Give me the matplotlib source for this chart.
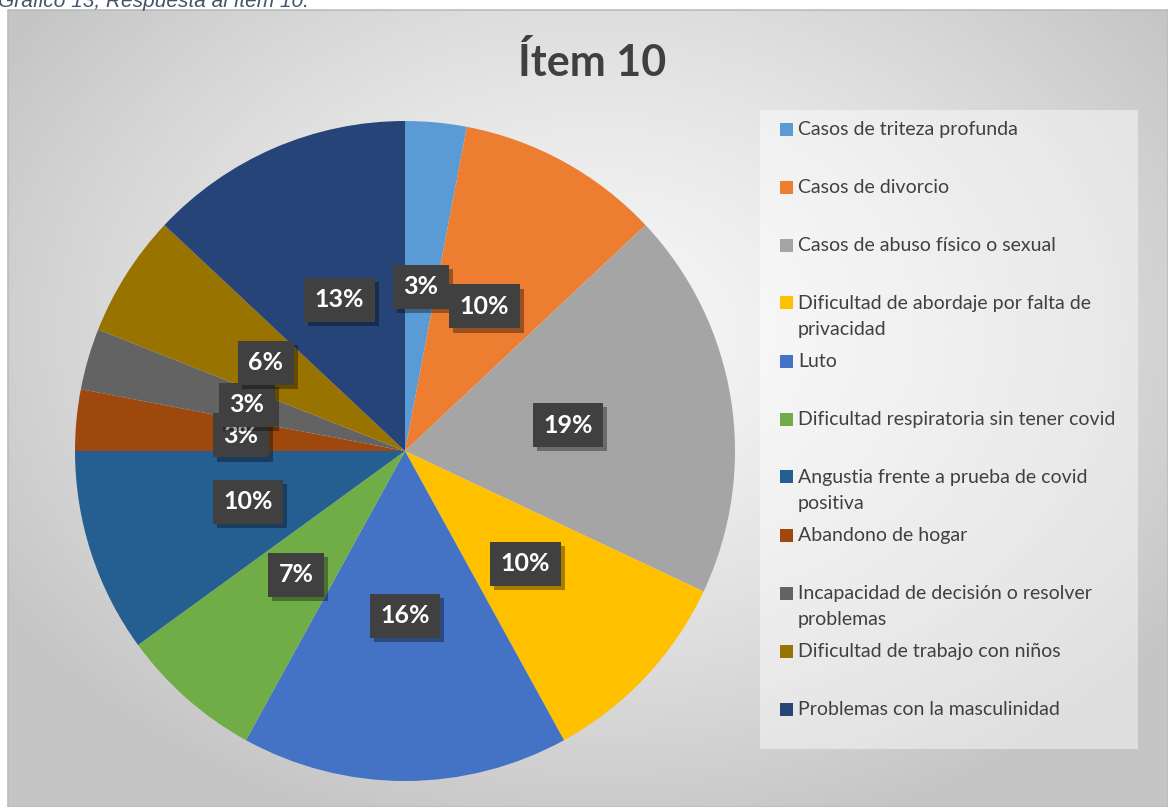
import numpy as np
import matplotlib
matplotlib.use("Agg")
import matplotlib.pyplot as plt
import matplotlib.patheffects as pe
from matplotlib.patches import Rectangle

# Respuestas al ítem 10 (porcentaje)
categories = ["Casos de triteza profunda",
              "Casos de divorcio",
              "Casos de abuso físico o sexual",
              "Dificultad de abordaje por falta de\nprivacidad",
              "Luto",
              "Dificultad respiratoria sin tener covid",
              "Angustia frente a prueba de covid\npositiva",
              "Abandono de hogar",
              "Incapacidad de decisión o resolver\nproblemas",
              "Dificultad de trabajo con niños",
              "Problemas con la masculinidad"]
values = [3, 10, 19, 10, 16, 7, 10, 3, 3, 6, 13]
colors = ["#5B9BD5", "#ED7D31", "#A5A5A5", "#FFC000", "#4472C4", "#70AD47",
          "#255E91", "#9E480E", "#636363", "#997300", "#264478"]

title = "Ítem 10"
caption = "Gráfico 13, Respuesta al ítem 10."

W, H = 1168, 807
FONT = "Lato"
TEXT_COLOR = "#404040"

def fx(x):
    return x / W

def fy(y):
    return 1 - y / H

fig = plt.figure(figsize=(W / 100, H / 100), dpi=100)
fig.patch.set_facecolor("white")

# --- chart area background (radial grey gradient) ---
bg = fig.add_axes([fx(8), 0, 1 - fx(8), fy(10)])
bg.set_axis_off()
gy, gx = np.mgrid[10:H, 8:W]
d = np.sqrt(((gx - 600) / 700.0) ** 2 + ((gy - 330) / 520.0) ** 2)
shade = 0.965 - 0.19 * np.clip(d, 0, 1) ** 1.4
bg.imshow(np.dstack([shade, shade, shade]), aspect="auto",
          extent=[0, 1, 0, 1], interpolation="bilinear")
bg.set_xlim(0, 1)
bg.set_ylim(0, 1)
fig.add_artist(Rectangle((fx(8), 0), 1 - fx(8), fy(10), transform=fig.transFigure,
                         fill=False, edgecolor="#bcbcbc", linewidth=1.2))

# caption above the chart, cut at the top edge as in the original document
fig.text(fx(-2), fy(7), caption, fontsize=15, style="italic",
         family="Liberation Sans", color="#44546A", va="baseline")

# --- title ---
fig.text(fx(592), fy(76), title, fontsize=31, fontweight="bold",
         family=FONT, color=TEXT_COLOR, ha="center", va="baseline")

# --- pie ---
cx, cy, r = 405, 451, 330
ax = fig.add_axes([fx(cx - r), fy(cy + r), 2 * r / W, 2 * r / H])
wedges, _, autotexts = ax.pie(values, colors=colors, startangle=90, counterclock=False,
                              autopct="%.0f%%", pctdistance=0.5,
                              wedgeprops=dict(linewidth=0))
ax.set_xlim(-1, 1)
ax.set_ylim(-1, 1)
ax.set_aspect("equal")
ax.set_axis_off()

for t in autotexts:
    t.set_fontsize(18)
    t.set_fontweight("bold")
    t.set_family(FONT)
    t.set_color("white")
    t.set_bbox(dict(boxstyle="square,pad=0.42", facecolor="#404040",
                    edgecolor="none", linewidth=0))
    t.get_bbox_patch().set_path_effects(
        [pe.SimplePatchShadow(offset=(3, -3), shadow_rgbFace="black", alpha=0.35),
         pe.Normal()])

# --- legend (drawn by hand, Excel-like spacing) ---
fig.add_artist(Rectangle((fx(760), fy(749)), fx(1138) - fx(760), fy(110) - fy(749),
                         transform=fig.transFigure, facecolor="white",
                         alpha=0.45, edgecolor="none"))
step = 58
line_h = 26
for i, (lab, col) in enumerate(zip(categories, colors)):
    yc = 129 + step * i
    fig.add_artist(Rectangle((fx(780), fy(yc + 6.5)), 13 / W, 13 / H,
                             transform=fig.transFigure, facecolor=col,
                             edgecolor="none"))
    for k, part in enumerate(lab.split("\n")):
        fig.text(fx(798), fy(yc + 6 + line_h * k), part, fontsize=14, family=FONT,
                 color=TEXT_COLOR, va="baseline")

fig.savefig("out.png", dpi=100)
